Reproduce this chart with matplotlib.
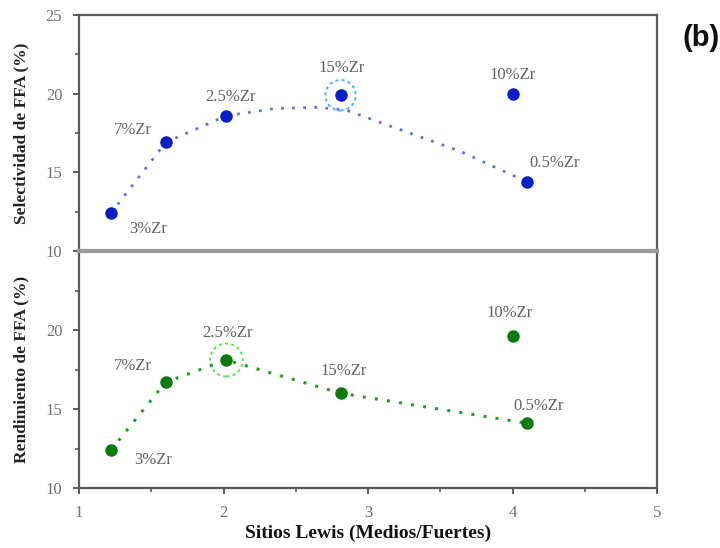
import matplotlib
matplotlib.use("Agg")
import matplotlib.pyplot as plt
from matplotlib.ticker import MultipleLocator

# ---- data ----
labels = ["3%Zr", "7%Zr", "2.5%Zr", "15%Zr", "10%Zr", "0.5%Zr"]
x_lewis = [1.22, 1.60, 2.02, 2.81, 4.00, 4.10]
selectividad = [12.4, 16.9, 18.6, 19.9, 20.0, 14.4]
rendimiento = [12.4, 16.7, 18.1, 16.0, 19.6, 14.1]

# trend line of the top panel
trend_x = [1.22, 1.60, 2.02, 2.37, 2.65, 2.85, 3.64, 4.10]
trend_y = [12.4, 16.9, 18.6, 19.07, 19.13, 18.95, 16.33, 14.4]

# dotted line of the bottom panel (order of the points)
line_order = ["3%Zr", "7%Zr", "2.5%Zr", "15%Zr", "0.5%Zr"]

# label positions (data coords)
top_label_x = [1.48, 1.37, 2.05, 2.82, 4.00, 4.29]
top_label_y = [11.4, 17.7, 19.8, 21.6, 21.2, 15.6]
bot_label_x = [1.51, 1.37, 2.03, 2.83, 3.98, 4.18]
bot_label_y = [11.8, 17.7, 19.8, 17.4, 21.1, 15.2]

highlight_top = "15%Zr"
highlight_bot = "2.5%Zr"

serif = ["Liberation Serif", "DejaVu Serif"]
plt.rcParams["font.family"] = serif

fig = plt.figure(figsize=(7.2, 5.48), dpi=100)
left, right = 79 / 720, 657 / 720
y_mid = 1 - 251 / 548
y_top = 1 - 15 / 548
y_bot = 1 - 488 / 548
ax1 = fig.add_axes([left, y_mid, right - left, y_top - y_mid])
ax2 = fig.add_axes([left, y_bot, right - left, y_mid - y_bot])

spine_c = "#5a5a5a"
tick_c = "#707070"
label_c = "#606060"

for ax in (ax1, ax2):
    ax.set_xlim(1, 5)
    ax.set_ylim(10, 25)
    for s in ax.spines.values():
        s.set_color(spine_c)
        s.set_linewidth(1.6)
    ax.xaxis.set_major_locator(MultipleLocator(1))
    ax.xaxis.set_minor_locator(MultipleLocator(0.5))
    ax.yaxis.set_minor_locator(MultipleLocator(2.5))
    ax.tick_params(which="major", direction="out", length=4, width=1.4,
                   color=spine_c, labelcolor=tick_c, labelsize=12)
    ax.tick_params(which="minor", direction="out", length=3, width=1.2,
                   color=spine_c)
    ax.tick_params(axis="y", which="major", pad=8)
    ax.tick_params(axis="x", which="major", pad=8)
    ax.tick_params(top=False, right=False, which="both")

ax1.spines["bottom"].set_color("#9a9a9a")
ax1.spines["bottom"].set_linewidth(3)
ax2.spines["top"].set_color("#9a9a9a")
ax2.spines["top"].set_linewidth(3)
ax1.tick_params(axis="x", which="both", bottom=False, labelbottom=False)
ax1.set_yticks([10, 15, 20, 25])
ax2.set_yticks([10, 15, 20])

# top panel
ax1.plot(trend_x, trend_y, linestyle=(0, (1, 3)), color="#6272e0", lw=2.0)
ax1.plot(x_lewis, selectividad, "o", color="#0a1ec8", ms=8, mec="#0a1ec8")
i = labels.index(highlight_top)
ax1.scatter([x_lewis[i]], [selectividad[i]], s=480, facecolors="none",
            edgecolors="#4fb8ff", linestyles=(0, (1.5, 1.5)), linewidths=1.5)
for lx, ly, t in zip(top_label_x, top_label_y, labels):
    ax1.text(lx, ly, t, ha="center", va="center", fontsize=12, color=label_c)

# bottom panel
idx = [labels.index(n) for n in line_order]
ax2.plot([x_lewis[k] for k in idx], [rendimiento[k] for k in idx],
         linestyle=(0, (1, 3)), color="#2a9a2a", lw=2.2)
ax2.plot(x_lewis, rendimiento, "o", color="#0a7a0a", ms=8, mec="#0a7a0a")
i = labels.index(highlight_bot)
ax2.scatter([x_lewis[i]], [rendimiento[i]], s=560, facecolors="none",
            edgecolors="#66e066", linestyles=(0, (1.5, 1.5)), linewidths=1.5)
for lx, ly, t in zip(bot_label_x, bot_label_y, labels):
    ax2.text(lx, ly, t, ha="center", va="center", fontsize=12, color=label_c)

ax1.set_ylabel("Selectividad de FFA (%)", fontsize=12.5, fontweight="bold",
               color="#222222", labelpad=12)
ax2.set_ylabel("Rendimiento de FFA (%)", fontsize=12.5, fontweight="bold",
               color="#222222", labelpad=12)
ax2.set_xlabel("Sitios Lewis (Medios/Fuertes)", fontsize=14,
               fontweight="bold", color="#111111", labelpad=3)

fig.text(683 / 720, 1 - 38 / 548, "(b)", fontsize=21, fontweight="bold",
         family=["Liberation Sans", "DejaVu Sans"], ha="left", va="center",
         color="#111111")

fig.savefig("out.png", dpi=100)
